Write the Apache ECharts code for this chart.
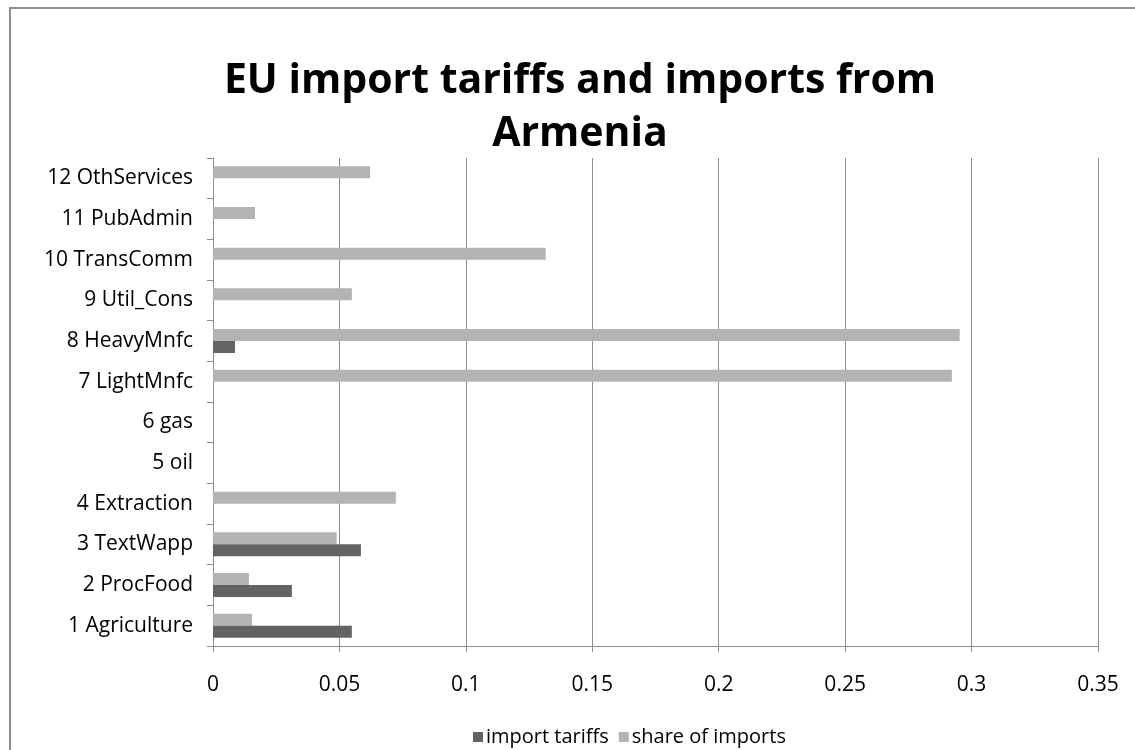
<!DOCTYPE html>
<html>
<head>
<meta charset="utf-8">
<script src="https://cdn.jsdelivr.net/npm/echarts@6/dist/echarts.min.js"></script>
<style>
  html, body { margin: 0; padding: 0; background: #fff; overflow: hidden; }
  #frame { position: absolute; left: 9px; top: 7px; width: 1200px; height: 800px;
           border-left: 2px solid #8e8e8e; border-top: 2px solid #8e8e8e; box-sizing: border-box; }
  #chart { position: absolute; left: 0; top: 0; width: 1135px; height: 750px; }
</style>
</head>
<body>
<div id="frame"></div>
<div id="chart"></div>
<script>
// Sectors, bottom to top
const sectors = [
  '1 Agriculture', '2 ProcFood', '3 TextWapp', '4 Extraction', '5 oil', '6 gas',
  '7 LightMnfc', '8 HeavyMnfc', '9 Util_Cons', '10 TransComm', '11 PubAdmin', '12 OthServices'
];
const importTariffs = [0.0549, 0.0312, 0.0585, 0, 0, 0, 0, 0.0087, 0, 0, 0, 0];
const shareOfImports = [0.0154, 0.0142, 0.0489, 0.0723, 0, 0, 0.2922, 0.2953, 0.0549, 0.1316, 0.0166, 0.0621];
const xTicks = { min: 0, max: 0.35, step: 0.05 };

const chart = echarts.init(document.getElementById('chart'), null, { renderer: 'canvas' });
const font = '"Open Sans", "Liberation Sans", sans-serif';

chart.setOption({
  animation: false,
  backgroundColor: 'transparent',
  title: {
    text: 'EU import tariffs and imports from\nArmenia',
    left: 575,
    top: 50,
    textAlign: 'center',
    textStyle: { fontFamily: font, fontSize: 41, fontWeight: 'bold', color: '#000', lineHeight: 53 }
  },
  legend: {
    bottom: -2,
    left: 468,
    itemWidth: 10,
    itemHeight: 10,
    itemGap: 10,
    icon: 'rect',
    textStyle: { fontFamily: font, fontSize: 20, color: '#000', padding: [0, 0, 0, -2] },
    data: ['import tariffs', 'share of imports']
  },
  grid: { left: 213, right: 37, top: 158, bottom: 104, containLabel: false },
  xAxis: {
    type: 'value',
    min: xTicks.min,
    max: xTicks.max,
    interval: xTicks.step,
    axisLine: { show: true, lineStyle: { color: '#8e8e8e', width: 1 } },
    axisTick: { show: true, length: 6, lineStyle: { color: '#8e8e8e' } },
    splitLine: { show: true, lineStyle: { color: '#8e8e8e', width: 1 } },
    axisLabel: { fontFamily: font, fontSize: 21, color: '#000', margin: 29,
                 formatter: v => String(+v.toFixed(2)) }
  },
  yAxis: {
    type: 'category',
    data: sectors,
    axisLine: { show: true, lineStyle: { color: '#8e8e8e', width: 1 } },
    axisTick: { show: true, length: 6, lineStyle: { color: '#8e8e8e' } },
    axisLabel: { fontFamily: font, fontSize: 21, color: '#000', margin: 20, padding: [4, 0, 0, 0] },
    splitLine: { show: false }
  },
  // share of imports listed first so it sits above the tariff bar in each row
  series: [
    {
      name: 'share of imports', type: 'bar', data: shareOfImports,
      itemStyle: { color: '#b3b3b3' }, barWidth: 12, barGap: '0%'
    },
    {
      name: 'import tariffs', type: 'bar', data: importTariffs,
      itemStyle: { color: '#636363' }, barWidth: 12, barGap: '0%'
    }
  ]
});
</script>
</body>
</html>
